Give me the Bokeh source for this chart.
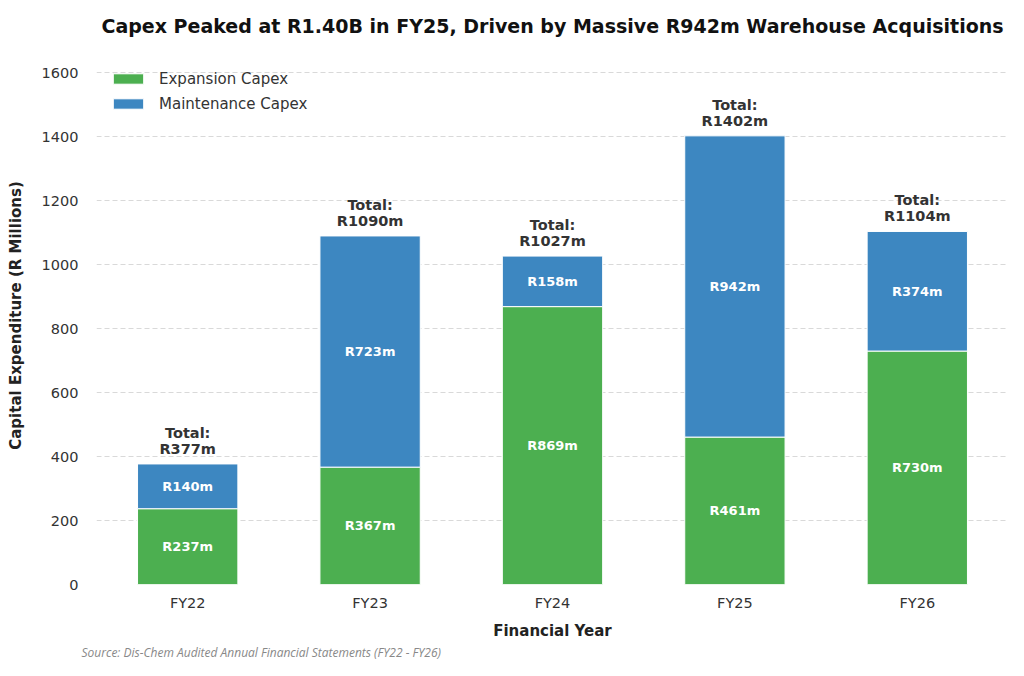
from bokeh.plotting import figure
from bokeh.models import ColumnDataSource, FactorRange, Range1d, FixedTicker, Title
from bokeh.core.properties import value
from bokeh.embed import file_html
from bokeh.resources import INLINE

# data
years = ["FY22", "FY23", "FY24", "FY25", "FY26"]
expansion = [237, 367, 869, 461, 730]
maintenance = [140, 723, 158, 942, 374]
totals = [377, 1090, 1027, 1402, 1104]

green = "#4caf50"
blue = "#3d87c1"

src = ColumnDataSource(data=dict(
    year=years,
    exp=expansion,
    mnt=maintenance,
    top=[e + m for e, m in zip(expansion, maintenance)],
    exp_mid=[e / 2 for e in expansion],
    mnt_mid=[e + m / 2 for e, m in zip(expansion, maintenance)],
    exp_lbl=["R%dm" % v for v in expansion],
    mnt_lbl=["R%dm" % v for v in maintenance],
    tot=totals,
    tot_lbl=["R%dm" % v for v in totals],
    tot_head=["Total:"] * len(years),
))

p = figure(x_range=FactorRange(*years, range_padding=0), y_range=Range1d(0, 1402 * 1.2),
           width=1008, height=660, output_backend="svg", toolbar_location=None,
           min_border_left=96, min_border_right=0, min_border_top=46, min_border_bottom=0,
           title="Capex Peaked at R1.40B in FY25, Driven by Massive R942m Warehouse Acquisitions")

p.title.text_font = "DejaVu Sans"
p.title.text_font_size = "19px"
p.title.text_font_style = "bold"
p.title.text_color = "#111111"
p.title.align = "center"
p.title.offset = 0
p.title.standoff = 20

p.vbar(x="year", top="exp", bottom=0, width=0.55, source=src, fill_color=green,
       line_color="white", line_width=1, legend_label="Expansion Capex")
p.vbar(x="year", top="top", bottom="exp", width=0.55, source=src, fill_color=blue,
       line_color="white", line_width=1, legend_label="Maintenance Capex")

# labels inside segments
for ycol, tcol in [("exp_mid", "exp_lbl"), ("mnt_mid", "mnt_lbl")]:
    p.text(x="year", y=ycol, text=tcol, source=src, text_align="center",
           text_baseline="middle", text_color="white", text_font=value("DejaVu Sans"),
           text_font_style="bold", text_font_size="13px")

# totals above bars
p.text(x="year", y="tot", text="tot_lbl", source=src, text_align="center",
       text_baseline="bottom", y_offset=-7, text_color="#333333",
       text_font=value("DejaVu Sans"), text_font_style="bold", text_font_size="14.5px")
p.text(x="year", y="tot", text="tot_head", source=src, text_align="center",
       text_baseline="bottom", y_offset=-23, text_color="#333333",
       text_font=value("DejaVu Sans"), text_font_style="bold", text_font_size="14.5px")

p.yaxis.ticker = FixedTicker(ticks=[0, 200, 400, 600, 800, 1000, 1200, 1400, 1600])
p.xgrid.grid_line_color = None
p.ygrid.grid_line_color = "#d9d9d9"
p.ygrid.grid_line_dash = "5 3"
p.ygrid.grid_line_width = 1
p.outline_line_color = None

for ax in (p.xaxis, p.yaxis):
    ax.axis_line_color = None
    ax.major_tick_line_color = None
    ax.minor_tick_line_color = None
    ax.major_label_text_font = "DejaVu Sans"
    ax.major_label_text_font_size = "14.5px"
    ax.major_label_text_color = "#333333"
    ax.axis_label_text_font = "DejaVu Sans"
    ax.axis_label_text_font_style = "bold"
    ax.axis_label_text_font_size = "15px"
    ax.axis_label_text_color = "#222222"

p.yaxis.major_label_standoff = 12
p.xaxis.major_label_standoff = 4
p.yaxis.axis_label = "Capital Expenditure (R Millions)"
p.xaxis.axis_label = "Financial Year"
p.yaxis.axis_label_standoff = 14
p.xaxis.axis_label_standoff = 8

# source note below the axis title
p.add_layout(Title(text="Source: Dis-Chem Audited Annual Financial Statements (FY22 - FY26)",
                   align="left", offset=-18, standoff=-7, padding=3, text_font="Open Sans",
                   text_font_style="italic", text_font_size="12px",
                   text_color="#888888"), "below")

p.legend.location = "top_left"
p.legend.border_line_color = None
p.legend.background_fill_alpha = 0
p.legend.title = " "
p.legend.title_text_font_size = "3px"
p.legend.title_standoff = 3
p.legend.label_text_font = "DejaVu Sans"
p.legend.label_text_font_size = "15px"
p.legend.label_text_color = "#333333"
p.legend.glyph_width = 38
p.legend.glyph_height = 13
p.legend.label_height = 25
p.legend.label_standoff = 12
p.legend.spacing = 0
p.legend.margin = 13
p.legend.padding = 9

open("out.html", "w").write(file_html(p, INLINE))
